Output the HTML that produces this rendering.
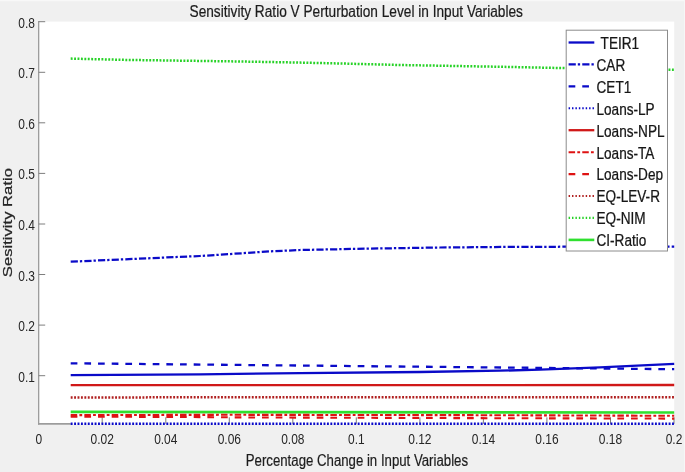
<!DOCTYPE html>
<html><head><meta charset="utf-8"><title>Sensitivity Ratio</title>
<style>
html,body{margin:0;padding:0;background:#f0f0f0;}
svg{display:block;will-change:transform;font-family:"Liberation Sans",sans-serif;}
</style></head>
<body>
<svg width="685" height="472" viewBox="0 0 685 472">
<rect x="0" y="0" width="685" height="472" fill="#f0f0f0"/>
<rect x="38.7" y="21.599999999999998" width="635.5" height="402.95000000000005" fill="#ffffff"/>
<rect x="0" y="0" width="685" height="1.2" fill="#f8f8f8"/>
<rect x="684" y="0" width="1" height="472" fill="#f6f6f6"/>
<line x1="38.7" y1="21.0" x2="38.7" y2="424.65000000000003" stroke="#949494" stroke-width="1.2"/>
<line x1="38.1" y1="423.85" x2="70.8" y2="423.85" stroke="#9c9c9c" stroke-width="1.6"/>
<line x1="38.7" y1="375.7" x2="45.2" y2="375.7" stroke="#7e7e7e" stroke-width="1"/>
<line x1="38.7" y1="325.1" x2="45.2" y2="325.1" stroke="#7e7e7e" stroke-width="1"/>
<line x1="38.7" y1="274.5" x2="45.2" y2="274.5" stroke="#7e7e7e" stroke-width="1"/>
<line x1="38.7" y1="224.0" x2="45.2" y2="224.0" stroke="#7e7e7e" stroke-width="1"/>
<line x1="38.7" y1="173.4" x2="45.2" y2="173.4" stroke="#7e7e7e" stroke-width="1"/>
<line x1="38.7" y1="122.8" x2="45.2" y2="122.8" stroke="#7e7e7e" stroke-width="1"/>
<line x1="38.7" y1="72.3" x2="45.2" y2="72.3" stroke="#7e7e7e" stroke-width="1"/>
<line x1="38.7" y1="21.7" x2="45.2" y2="21.7" stroke="#7e7e7e" stroke-width="1"/>
<line x1="102.2" y1="423.85" x2="102.2" y2="417.35" stroke="#5a5a5a" stroke-width="0.8"/>
<line x1="165.8" y1="423.85" x2="165.8" y2="417.35" stroke="#5a5a5a" stroke-width="0.8"/>
<line x1="229.3" y1="423.85" x2="229.3" y2="417.35" stroke="#5a5a5a" stroke-width="0.8"/>
<line x1="292.8" y1="423.85" x2="292.8" y2="417.35" stroke="#5a5a5a" stroke-width="0.8"/>
<line x1="356.3" y1="423.85" x2="356.3" y2="417.35" stroke="#5a5a5a" stroke-width="0.8"/>
<line x1="419.9" y1="423.85" x2="419.9" y2="417.35" stroke="#5a5a5a" stroke-width="0.8"/>
<line x1="483.4" y1="423.85" x2="483.4" y2="417.35" stroke="#5a5a5a" stroke-width="0.8"/>
<line x1="546.9" y1="423.85" x2="546.9" y2="417.35" stroke="#5a5a5a" stroke-width="0.8"/>
<line x1="610.5" y1="423.85" x2="610.5" y2="417.35" stroke="#5a5a5a" stroke-width="0.8"/>
<line x1="674.0" y1="423.85" x2="674.0" y2="417.35" stroke="#5a5a5a" stroke-width="0.8"/>
<polyline points="70.7,58.6 126.0,59.9 241.0,61.5 300.0,62.6 341.0,63.5 400.0,65.0 501.0,66.8 560.0,68.0 674.2,69.8" fill="none" stroke="#27d227" stroke-width="2.5" stroke-dasharray="1.9,1.5167"/>
<polyline points="70.7,261.7 200.0,256.0 270.0,251.4 300.0,250.0 370.0,248.6 440.0,247.5 520.0,246.8 674.2,246.6" fill="none" stroke="#0a0ac8" stroke-width="2.25" stroke-dasharray="7.2,2.0,2.3,2.1667"/>
<polyline points="70.7,363.3 674.2,369.2" fill="none" stroke="#0a0ac8" stroke-width="2.3" stroke-dasharray="6.7,6.9667"/>
<polyline points="70.7,375.1 200.0,374.3 300.0,373.1 420.0,372.0 500.0,370.7 540.0,369.6 600.0,367.4 674.2,363.9" fill="none" stroke="#0a0ac8" stroke-width="2.3"/>
<polyline points="70.7,385.1 674.2,385.0" fill="none" stroke="#d01818" stroke-width="2.3"/>
<polyline points="70.7,397.4 674.2,397.2" fill="none" stroke="#b02020" stroke-width="2.5" stroke-dasharray="1.9,1.5167"/>
<polyline points="70.7,411.9 674.2,412.5" fill="none" stroke="#2fe02f" stroke-width="2.6"/>
<polyline points="70.7,415.1 230.0,414.8 490.0,415.2 674.2,415.8" fill="none" stroke="#de1212" stroke-width="2.1" stroke-dasharray="6.5,2.2,2.8,2.1667"/>
<polyline points="70.7,416.7 170.0,416.9 240.0,417.4 490.0,418.2 674.2,418.6" fill="none" stroke="#de1212" stroke-width="2.1" stroke-dasharray="6.7,6.9667"/>
<polyline points="70.7,423.7 674.2,423.7" fill="none" stroke="#0a0ac8" stroke-width="2.5" stroke-dasharray="1.9,1.5167"/>
<text transform="translate(34.9,381.68) scale(0.815,1)" font-size="14.67" text-anchor="end" fill="#262626">0.1</text>
<text transform="translate(34.9,331.11) scale(0.815,1)" font-size="14.67" text-anchor="end" fill="#262626">0.2</text>
<text transform="translate(34.9,280.54) scale(0.815,1)" font-size="14.67" text-anchor="end" fill="#262626">0.3</text>
<text transform="translate(34.9,229.97) scale(0.815,1)" font-size="14.67" text-anchor="end" fill="#262626">0.4</text>
<text transform="translate(34.9,179.4) scale(0.815,1)" font-size="14.67" text-anchor="end" fill="#262626">0.5</text>
<text transform="translate(34.9,128.83000000000004) scale(0.815,1)" font-size="14.67" text-anchor="end" fill="#262626">0.6</text>
<text transform="translate(34.9,78.26000000000005) scale(0.815,1)" font-size="14.67" text-anchor="end" fill="#262626">0.7</text>
<text transform="translate(34.9,27.689999999999998) scale(0.815,1)" font-size="14.67" text-anchor="end" fill="#262626">0.8</text>
<text transform="translate(38.7,444.3) scale(0.815,1)" font-size="14.67" text-anchor="middle" fill="#262626">0</text>
<text transform="translate(102.22999999999999,444.3) scale(0.815,1)" font-size="14.67" text-anchor="middle" fill="#262626">0.02</text>
<text transform="translate(165.76,444.3) scale(0.815,1)" font-size="14.67" text-anchor="middle" fill="#262626">0.04</text>
<text transform="translate(229.28999999999996,444.3) scale(0.815,1)" font-size="14.67" text-anchor="middle" fill="#262626">0.06</text>
<text transform="translate(292.82,444.3) scale(0.815,1)" font-size="14.67" text-anchor="middle" fill="#262626">0.08</text>
<text transform="translate(356.34999999999997,444.3) scale(0.815,1)" font-size="14.67" text-anchor="middle" fill="#262626">0.1</text>
<text transform="translate(419.87999999999994,444.3) scale(0.815,1)" font-size="14.67" text-anchor="middle" fill="#262626">0.12</text>
<text transform="translate(483.41,444.3) scale(0.815,1)" font-size="14.67" text-anchor="middle" fill="#262626">0.14</text>
<text transform="translate(546.9399999999999,444.3) scale(0.815,1)" font-size="14.67" text-anchor="middle" fill="#262626">0.16</text>
<text transform="translate(610.4699999999999,444.3) scale(0.815,1)" font-size="14.67" text-anchor="middle" fill="#262626">0.18</text>
<text transform="translate(674.0,444.3) scale(0.815,1)" font-size="14.67" text-anchor="middle" fill="#262626">0.2</text>
<text transform="translate(356.2,16.5) scale(0.85,1.06)" font-size="16.1" text-anchor="middle" fill="#1c1c1c" stroke="#1c1c1c" stroke-width="0.22">Sensitivity Ratio V Perturbation Level in Input Variables</text>
<text transform="translate(356.9,465.6) scale(0.821,1.07)" font-size="16.1" text-anchor="middle" fill="#1c1c1c" stroke="#1c1c1c" stroke-width="0.2">Percentage Change in Input Variables</text>
<text transform="translate(12.4,222.6) scale(0.931,1.135) rotate(-90)" font-size="14.67" text-anchor="middle" fill="#262626" stroke="#262626" stroke-width="0.25">Sesitivity Ratio</text>
<rect x="566.2" y="30.2" width="101.29999999999995" height="220.8" fill="#ffffff" stroke="#8c8c8c" stroke-width="1"/>
<line x1="568.6" y1="42.5" x2="594.3" y2="42.5" stroke="#0a0ac8" stroke-width="2.3"/>
<text transform="translate(600.6,48.9) scale(0.872,1)" font-size="15.6" text-anchor="start" fill="#161616" stroke="#161616" stroke-width="0.25">TEIR1</text>
<line x1="568.6" y1="64.4" x2="594.3" y2="64.4" stroke="#0a0ac8" stroke-width="2.25" stroke-dasharray="7.2,2.0,2.3,2.1667"/>
<text transform="translate(596.5,70.83000000000001) scale(0.872,1)" font-size="15.6" text-anchor="start" fill="#161616" stroke="#161616" stroke-width="0.25">CAR</text>
<line x1="568.6" y1="86.4" x2="594.3" y2="86.4" stroke="#0a0ac8" stroke-width="2.3" stroke-dasharray="6.7,6.9667"/>
<text transform="translate(596.5,92.76) scale(0.872,1)" font-size="15.6" text-anchor="start" fill="#161616" stroke="#161616" stroke-width="0.25">CET1</text>
<line x1="568.6" y1="108.3" x2="594.3" y2="108.3" stroke="#0a0ac8" stroke-width="2.1" stroke-dasharray="1.45,1.9667"/>
<text transform="translate(596.5,114.69) scale(0.872,1)" font-size="15.6" text-anchor="start" fill="#161616" stroke="#161616" stroke-width="0.25">Loans-LP</text>
<line x1="568.6" y1="130.2" x2="594.3" y2="130.2" stroke="#d01818" stroke-width="2.3"/>
<text transform="translate(596.5,136.62) scale(0.872,1)" font-size="15.6" text-anchor="start" fill="#161616" stroke="#161616" stroke-width="0.25">Loans-NPL</text>
<line x1="568.6" y1="152.2" x2="594.3" y2="152.2" stroke="#de1212" stroke-width="2.1" stroke-dasharray="6.5,2.2,2.8,2.1667"/>
<text transform="translate(596.5,158.55) scale(0.872,1)" font-size="15.6" text-anchor="start" fill="#161616" stroke="#161616" stroke-width="0.25">Loans-TA</text>
<line x1="568.6" y1="174.1" x2="594.3" y2="174.1" stroke="#de1212" stroke-width="2.1" stroke-dasharray="6.7,6.9667"/>
<text transform="translate(596.5,180.48) scale(0.872,1)" font-size="15.6" text-anchor="start" fill="#161616" stroke="#161616" stroke-width="0.25">Loans-Dep</text>
<line x1="568.6" y1="196.0" x2="594.3" y2="196.0" stroke="#b02020" stroke-width="2.1" stroke-dasharray="1.45,1.9667"/>
<text transform="translate(596.5,202.41) scale(0.872,1)" font-size="15.6" text-anchor="start" fill="#161616" stroke="#161616" stroke-width="0.25">EQ-LEV-R</text>
<line x1="568.6" y1="217.9" x2="594.3" y2="217.9" stroke="#27d227" stroke-width="2.1" stroke-dasharray="1.45,1.9667"/>
<text transform="translate(596.5,224.34) scale(0.872,1)" font-size="15.6" text-anchor="start" fill="#161616" stroke="#161616" stroke-width="0.25">EQ-NIM</text>
<line x1="568.6" y1="239.9" x2="594.3" y2="239.9" stroke="#2fe02f" stroke-width="2.6"/>
<text transform="translate(596.5,246.27) scale(0.872,1)" font-size="15.6" text-anchor="start" fill="#161616" stroke="#161616" stroke-width="0.25">CI-Ratio</text>
</svg>
</body></html>
